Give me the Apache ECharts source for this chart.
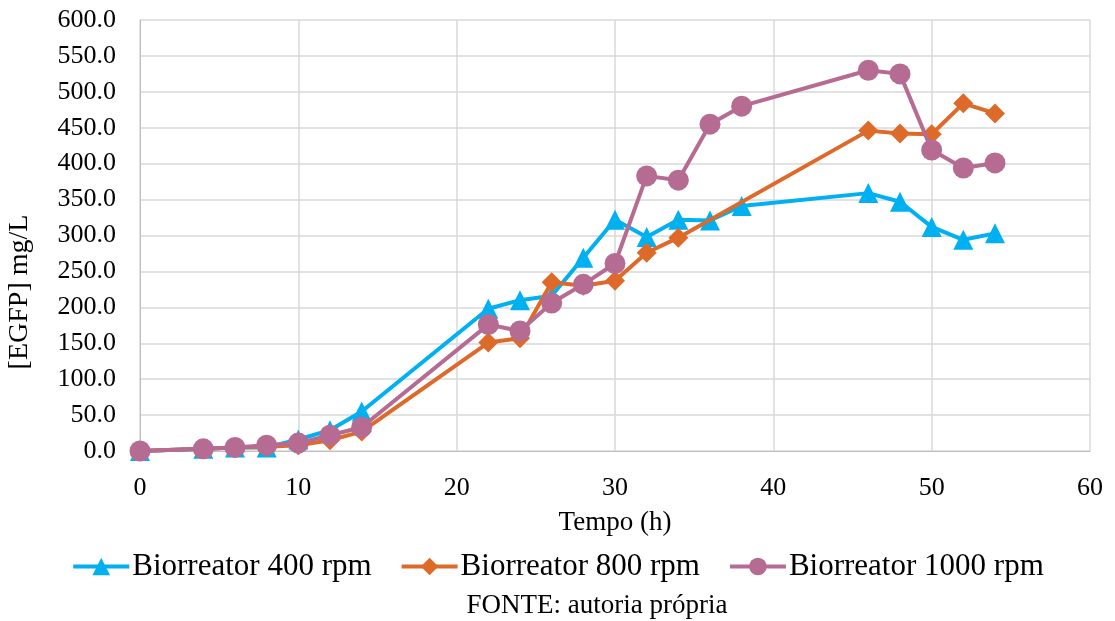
<!DOCTYPE html>
<html><head><meta charset="utf-8">
<script src="https://cdn.jsdelivr.net/npm/echarts@6/dist/echarts.min.js"></script>
<style>html,body{margin:0;padding:0;background:#fff}#c{width:1115px;height:621px}</style>
</head><body><div id="c"></div>
<script>
var seriesNames = ['Biorreator 400 rpm', 'Biorreator 800 rpm', 'Biorreator 1000 rpm'];
var t400 = [0, 4, 6, 8, 10, 12, 14, 22, 24, 26, 28, 30, 32, 34, 36, 38, 46, 48, 50, 52, 54];
var v400 = [0, 3, 5, 5, 16, 29, 55, 198, 210, 216, 269, 322, 298, 322, 321, 341, 359, 347, 312, 294, 303];
var t800 = [0, 4, 6, 8, 10, 12, 14, 22, 24, 26, 28, 30, 32, 34, 46, 48, 50, 52, 54];
var v800 = [0, 3, 5, 6, 8, 15, 27, 151, 157, 235, 230, 237, 276, 297, 446, 442, 441, 484, 470];
var t1000 = [0, 4, 6, 8, 10, 12, 14, 22, 24, 26, 28, 30, 32, 34, 36, 38, 46, 48, 50, 52, 54];
var v1000 = [0, 3, 5, 8, 11, 22, 33, 176, 167, 206, 232, 261, 383, 377, 455, 480, 530, 525, 419, 394, 401];
var colors = ['#00B0F0', '#DE6A2A', '#B66B93'];
var symbols = ['triangle', 'diamond', 'circle'];
var symSizes = [20, 20, 21];

function pairs(t, v) { return t.map(function (x, i) { return [x, v[i]]; }); }
var dataSets = [pairs(t400, v400), pairs(t800, v800), pairs(t1000, v1000)];

var font = '"Liberation Serif", "Times New Roman", serif';
var chart = echarts.init(document.getElementById('c'));
chart.setOption({
  animation: false,
  color: colors,
  grid: { left: 140, right: 25, top: 20, bottom: 170 },
  xAxis: {
    type: 'value', min: 0, max: 60, interval: 10,
    name: 'Tempo (h)', nameLocation: 'middle', nameGap: 58,
    nameTextStyle: { fontFamily: font, fontSize: 27, color: '#000' },
    axisLine: { show: true, lineStyle: { color: '#BFBFBF', width: 1 } },
    axisTick: { show: false },
    axisLabel: { fontFamily: font, fontSize: 26, color: '#000', margin: 24 },
    splitLine: { show: true, lineStyle: { color: '#D9D9D9', width: 1.5 } }
  },
  yAxis: {
    type: 'value', min: 0, max: 600, interval: 50,
    axisLine: { show: true, lineStyle: { color: '#BFBFBF', width: 1 } },
    axisTick: { show: false },
    axisLabel: { fontFamily: font, fontSize: 26, color: '#000', margin: 24, formatter: function (v) { return v.toFixed(1); } },
    splitLine: { show: true, lineStyle: { color: '#D9D9D9', width: 1.5 } }
  },
  legend: {
    top: 546, left: 'center', itemWidth: 56, itemHeight: 22, itemGap: 28,
    lineStyle: { width: 4 },
    textStyle: { fontFamily: font, fontSize: 31, color: '#000', padding: [0, 0, 0, -2] },
    data: seriesNames
  },
  graphic: [{
    type: 'text', x: 597, y: 606,
    style: { text: 'FONTE: autoria própria', font: '27px ' + font, fill: '#000', align: 'center', verticalAlign: 'middle' }
  }, {
    type: 'text', x: 20, y: 292, rotation: Math.PI / 2,
    style: { text: '[EGFP] mg/L', font: '28px ' + font, fill: '#000', align: 'center', verticalAlign: 'middle' }
  }],
  series: seriesNames.map(function (n, i) {
    return {
      name: n, type: 'line', data: dataSets[i],
      symbol: symbols[i], symbolSize: symSizes[i],
      lineStyle: { width: 4, color: colors[i] },
      itemStyle: { color: colors[i] },
      z: 2 + i
    };
  })
});
</script></body></html>
